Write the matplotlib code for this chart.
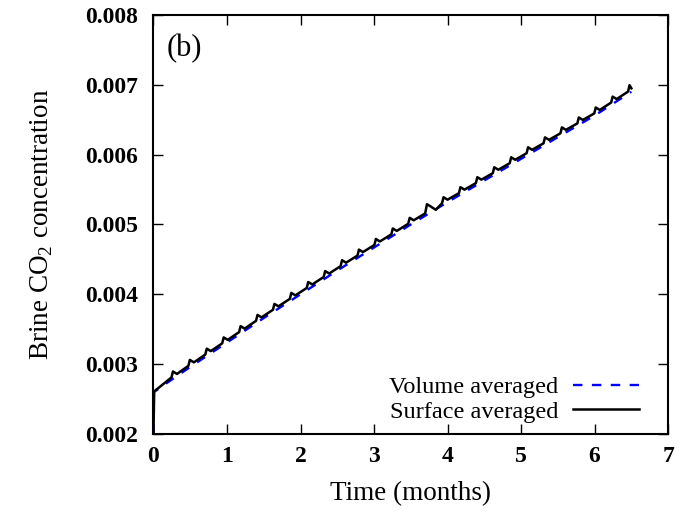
import matplotlib
matplotlib.use("Agg")
import matplotlib.pyplot as plt

plt.rcParams['font.family'] = ['Liberation Serif', 'DejaVu Serif']
plt.rcParams['mathtext.fontset'] = 'custom'
plt.rcParams['mathtext.rm'] = 'Liberation Serif'

# volume averaged brine CO2 concentration (months, mass fraction)
vol_t = [0.0, 0.005, 0.25, 0.5, 1.0, 1.5, 2.0, 2.5, 3.0, 3.5, 4.0, 4.5, 5.0, 5.5, 6.0, 6.5]
vol_c = [0.00200, 0.00260, 0.00278, 0.00296, 0.00331, 0.00366, 0.00400, 0.00434,
         0.00467, 0.00500, 0.00532, 0.00563, 0.00594, 0.00625, 0.00656, 0.00690]

# surface averaged: weekly spikes on top of the trend
surf_t = [0.0, 0.01,
          0.245, 0.265, 0.32,
          0.475, 0.495, 0.55,
          0.705, 0.725, 0.78,
          0.935, 0.955, 1.01,
          1.165, 1.185, 1.24,
          1.395, 1.415, 1.47,
          1.625, 1.645, 1.70,
          1.855, 1.875, 1.93,
          2.085, 2.105, 2.16,
          2.315, 2.335, 2.39,
          2.545, 2.565, 2.62,
          2.775, 2.795, 2.85,
          3.005, 3.025, 3.08,
          3.235, 3.255, 3.31,
          3.465, 3.485, 3.54,
          3.695, 3.72, 3.76, 3.84,
          3.925, 3.945, 4.00,
          4.155, 4.175, 4.23,
          4.385, 4.405, 4.46,
          4.615, 4.635, 4.69,
          4.845, 4.865, 4.92,
          5.075, 5.095, 5.15,
          5.305, 5.325, 5.38,
          5.535, 5.555, 5.61,
          5.765, 5.785, 5.84,
          5.995, 6.015, 6.07,
          6.225, 6.245, 6.30,
          6.455, 6.475, 6.50]
surf_c = [0.00200, 0.00261,
          0.002810, 0.002895, 0.002860,
          0.002976, 0.003061, 0.003026,
          0.003137, 0.003222, 0.003187,
          0.003298, 0.003383, 0.003348,
          0.003459, 0.003544, 0.003509,
          0.003620, 0.003705, 0.003670,
          0.003778, 0.003863, 0.003828,
          0.003935, 0.004020, 0.003985,
          0.004091, 0.004176, 0.004141,
          0.004248, 0.004333, 0.004298,
          0.004403, 0.004488, 0.004453,
          0.004555, 0.004640, 0.004605,
          0.004707, 0.004792, 0.004757,
          0.004858, 0.004943, 0.004908,
          0.005010, 0.005095, 0.005060,
          0.005158, 0.005290, 0.005265, 0.005210,
          0.005305, 0.005390, 0.005355,
          0.005449, 0.005534, 0.005499,
          0.005592, 0.005677, 0.005642,
          0.005734, 0.005819, 0.005784,
          0.005877, 0.005962, 0.005927,
          0.006020, 0.006105, 0.006070,
          0.006162, 0.006247, 0.006212,
          0.006305, 0.006390, 0.006355,
          0.006447, 0.006532, 0.006497,
          0.006590, 0.006675, 0.006640,
          0.006746, 0.006831, 0.006796,
          0.006903, 0.006995, 0.006950]

x_ticks = [0, 1, 2, 3, 4, 5, 6, 7]
y_ticks = [0.002, 0.003, 0.004, 0.005, 0.006, 0.007, 0.008]

fig = plt.figure(figsize=(6.79, 5.11), dpi=100)
ax = fig.add_axes([0.226, 0.1507, 0.758, 0.820])

ax.plot(vol_t, vol_c, color='#0000ff', linestyle=(0, (4, 4)), linewidth=1.7,
        label='Volume averaged')
ax.plot(surf_t, surf_c, color='black', linewidth=1.8, label='Surface averaged')

ax.set_xlim(0, 7)
ax.set_ylim(0.002, 0.008)
ax.set_xticks(x_ticks)
ax.set_yticks(y_ticks)
ax.set_xticklabels([str(v) for v in x_ticks], fontweight='bold', fontsize=17)
ax.set_yticklabels(['%.3f' % v for v in y_ticks], fontweight='bold', fontsize=17)
ax.tick_params(direction='in', length=7, width=1, top=True, right=True)
ax.tick_params(axis='y', pad=11)
ax.tick_params(axis='x', pad=9)
for s in ax.spines.values():
    s.set_linewidth(1.5)

ax.set_xlabel('Time (months)', fontsize=19.5, labelpad=10)
ax.set_ylabel('Brine CO$_2$ concentration', fontsize=19.5, labelpad=22)
ax.text(0.025, 0.955, '(b)', transform=ax.transAxes, fontsize=22, va='top')

ax.legend(loc='lower right', frameon=False, markerfirst=False, fontsize=17.5,
          handlelength=2.7, labelspacing=0.1, borderaxespad=0.0,
          borderpad=0.3, handletextpad=0.6, bbox_to_anchor=(0.957, 0.01))

fig.savefig('out.png', dpi=100)
